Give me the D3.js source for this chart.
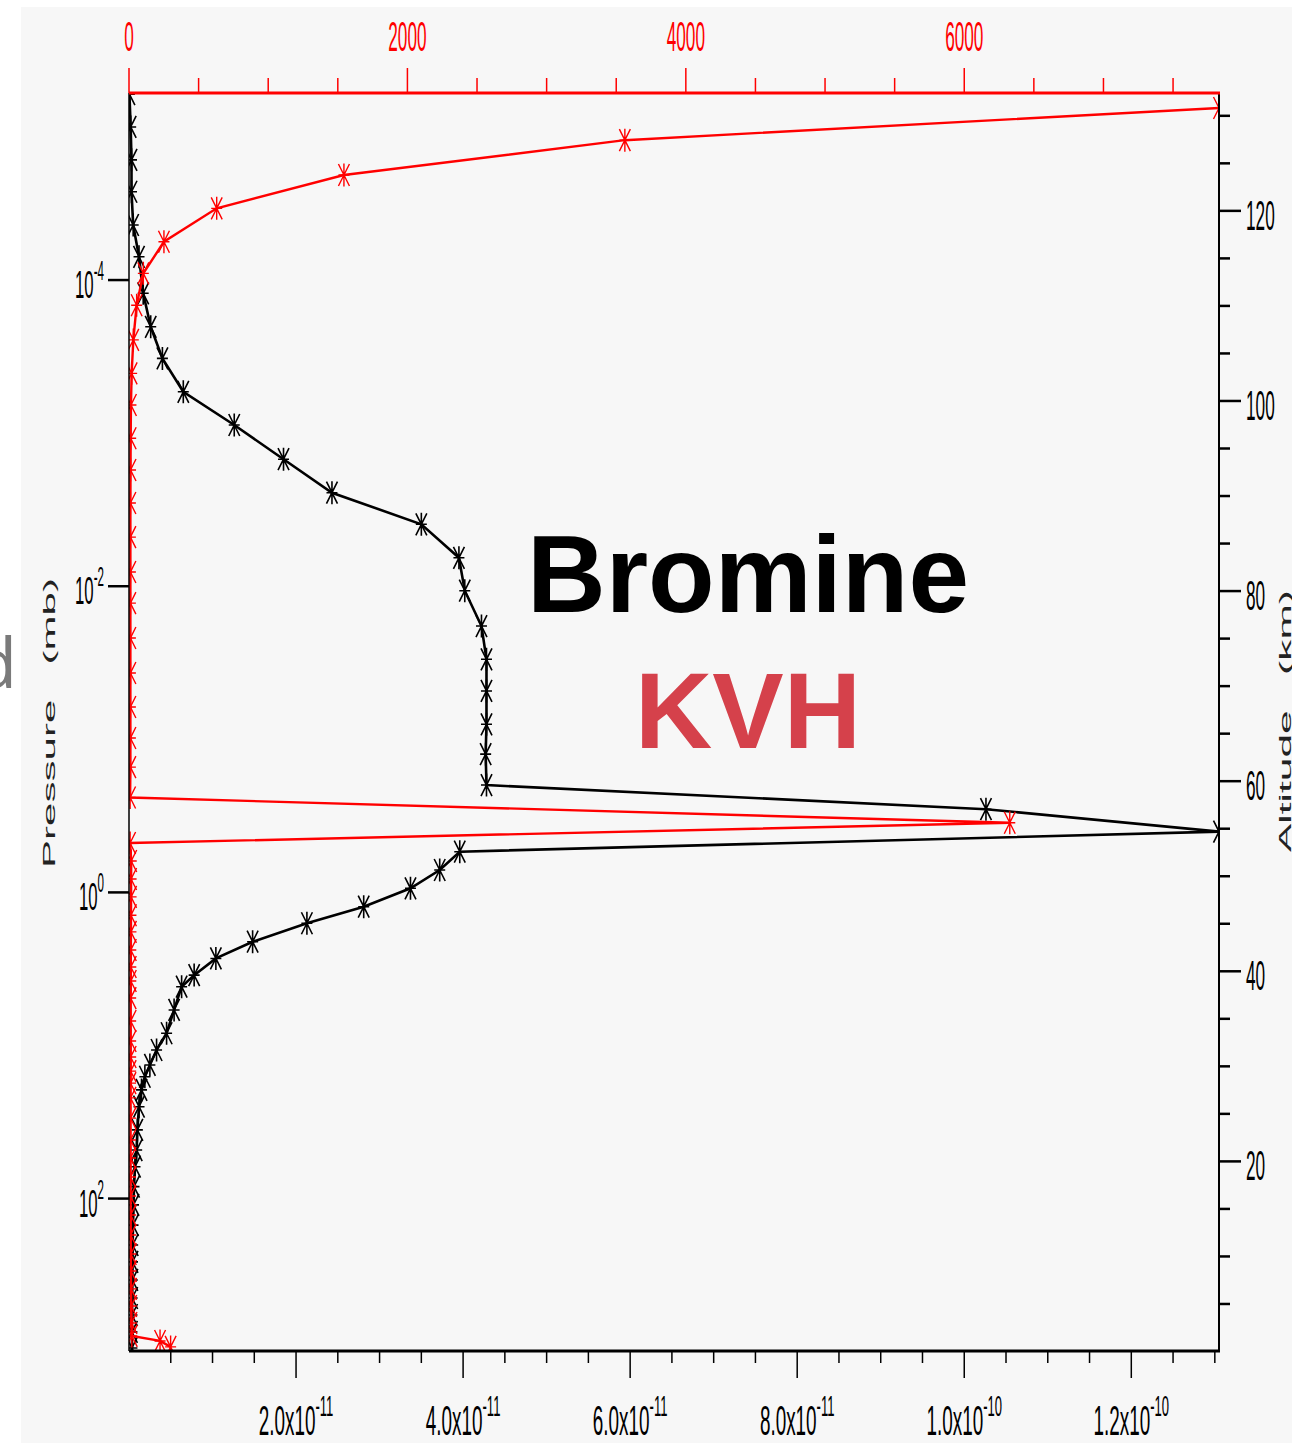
<!DOCTYPE html>
<html>
<head>
<meta charset="utf-8">
<script src="https://cdn.jsdelivr.net/npm/d3@7"></script>
<style>
  html, body { margin: 0; padding: 0; background: #ffffff; }
  svg { display: block; }
</style>
</head>
<body>
<svg id="chart" width="1292" height="1445"></svg>
<script>
// Bromine profile (black, bottom axis): pressure levels in mb and mixing ratio
const brPressure = [6.1e-6, 1.0e-5, 1.64e-5, 2.65e-5, 4.37e-5, 7.05e-5, 1.22e-4, 2.02e-4, 3.25e-4, 5.37e-4,
  8.85e-4, 1.48e-3, 2.45e-3, 3.94e-3, 6.52e-3, 1.07e-2, 1.82e-2, 3.00e-2, 4.83e-2, 7.98e-2,
  0.125, 0.199, 0.286, 0.401, 0.542, 0.714, 0.940, 1.24, 1.59, 2.10,
  2.70, 3.47, 4.13, 5.86, 8.32, 10.7, 13.4, 16.0, 19.5, 25.1,
  35.6, 48.2, 61.9, 83.6, 110, 149, 201, 259, 340, 446, 576, 743, 946];
const brMixing = [0.05e-12, 0.2e-12, 0.3e-12, 0.3e-12, 0.5e-12, 1.2e-12, 1.7e-12, 2.6e-12, 4.0e-12, 6.5e-12,
  12.6e-12, 18.5e-12, 24.3e-12, 35.0e-12, 39.5e-12, 40.2e-12, 42.2e-12, 42.8e-12, 42.8e-12, 42.8e-12,
  42.7e-12, 42.8e-12, 102.6e-12, 130.5e-12, 39.6e-12, 37.2e-12, 33.7e-12, 28.1e-12, 21.3e-12, 14.8e-12,
  10.4e-12, 7.8e-12, 6.3e-12, 5.4e-12, 4.5e-12, 3.3e-12, 2.5e-12, 1.9e-12, 1.5e-12, 1.2e-12,
  1.0e-12, 0.92e-12, 0.72e-12, 0.6e-12, 0.54e-12, 0.48e-12, 0.44e-12, 0.42e-12, 0.40e-12, 0.38e-12,
  0.36e-12, 0.35e-12, 0.35e-12];

// KVH profile (red, top axis): pressure levels in mb and values
const kvhPressure = [7.52e-6, 1.22e-5, 2.06e-5, 3.40e-5, 5.62e-5, 9.04e-5, 1.46e-4, 2.46e-4, 4.07e-4, 6.55e-4,
  1.08e-3, 1.74e-3, 2.86e-3, 4.78e-3, 8.08e-3, 1.29e-2, 2.18e-2, 3.69e-2, 6.15e-2, 9.81e-2,
  0.152, 0.240, 0.351, 0.476, 0.624, 0.817, 1.07, 1.41, 1.81, 2.38,
  3.07, 3.79, 4.90, 6.92, 9.35, 11.9, 14.7, 17.6, 22.0, 29.8,
  41.4, 54.3, 72.3, 96.2, 128, 173, 230, 297, 389, 503, 650, 789, 851, 931];
const kvhValue = [7830, 3562, 1544, 630, 251, 103, 55, 31, 19, 14,
  12, 11, 10, 10, 10, 10, 10, 10, 10, 10,
  10, 8, 6327, 8, 16, 15, 15, 14, 14, 13,
  13, 13, 12, 12, 12, 12, 12, 11, 11, 11,
  11, 11, 11, 11, 12, 12, 13, 14, 15, 16, 18, 20, 223, 299];

// Axis ticks and labels
const pressureTicks = [1e-4, 1e-2, 1e0, 1e2];
const pressureExp = ["-4", "-2", "0", "2"];
const bottomTicks = [2e-11, 4e-11, 6e-11, 8e-11, 1.0e-10, 1.2e-10];
const bottomMant = ["2.0x10", "4.0x10", "6.0x10", "8.0x10", "1.0x10", "1.2x10"];
const bottomExp = ["-11", "-11", "-11", "-11", "-10", "-10"];
const topTicks = [0, 2000, 4000, 6000];
const altitudeLabels = [20, 40, 60, 80, 100, 120];

const brData = brPressure.map((p, i) => ({ p, v: brMixing[i] }));
const kvhData = kvhPressure.map((p, i) => ({ p, v: kvhValue[i] }));

const svg = d3.select("#chart");
const L = 129, R = 1219, T = 93, B = 1351;
const FONT = "'Liberation Sans', Arial, Helvetica, sans-serif";

// panel background
svg.append("rect").attr("x", 21).attr("y", 7).attr("width", 1271).attr("height", 1436).attr("fill", "#f7f7f7");

// stray letter at the far left edge
svg.append("text").attr("x", 17).attr("y", 688).attr("text-anchor", "end")
  .attr("font-family", "'Open Sans', 'Liberation Sans', sans-serif").attr("font-size", 70)
  .attr("fill", "#7a7a7a").text("d");

// scales
const y = d3.scaleLog().domain([6.0e-6, 990]).range([T, B]);
const xBottom = d3.scaleLinear().domain([0, d3.max(brMixing)]).range([L, R]);
const xTop = d3.scaleLinear().domain([0, d3.max(kvhValue)]).range([L, R]);
const alt = d3.scaleLinear().domain([0, 132.4]).range([B + 0.5, T]);

svg.append("clipPath").attr("id", "plotClip")
  .append("rect").attr("x", L).attr("y", T).attr("width", R - L).attr("height", B - T);

// squeezed axis label with optional superscript
function tickLabel(g, x, yy, anchor, sx, color, main, sup, mainSize, supSize, supDy) {
  const t = g.append("text")
    .attr("transform", `translate(${x},${yy}) scale(${sx},1)`)
    .attr("text-anchor", anchor).attr("fill", color)
    .attr("font-family", FONT);
  t.append("tspan").attr("font-size", mainSize).text(main);
  if (sup !== null) t.append("tspan").attr("font-size", supSize).attr("dy", supDy).text(sup);
}

const axes = svg.append("g");

// top (red) axis
const topMinor = d3.range(0, 7830, 500);
axes.selectAll("line.topTick").data(topMinor).join("line")
  .attr("x1", d => xTop(d)).attr("x2", d => xTop(d))
  .attr("y1", T).attr("y2", d => T - (d % 2000 === 0 ? 25 : 15))
  .attr("stroke", "#ff0000").attr("stroke-width", 1.5);
topTicks.forEach(d => tickLabel(axes, xTop(d), 51, "middle", 0.40, "#ff0000", String(d), null, 43));

// bottom axis
const bottomMinor = d3.range(5, 131, 5);
axes.selectAll("line.botTick").data(bottomMinor).join("line")
  .attr("x1", d => xBottom(d * 1e-12)).attr("x2", d => xBottom(d * 1e-12))
  .attr("y1", B).attr("y2", d => B + (d % 20 === 0 ? 27 : 12))
  .attr("stroke", "#000").attr("stroke-width", 1.5);
bottomTicks.forEach((d, i) => tickLabel(axes, xBottom(d), 1435, "middle", 0.45, "#000",
  bottomMant[i], bottomExp[i], 42, 29, -19));

// left pressure axis
pressureTicks.forEach((d, i) => {
  axes.append("line").attr("x1", L - 21).attr("x2", L).attr("y1", y(d)).attr("y2", y(d))
    .attr("stroke", "#000").attr("stroke-width", 2.5);
  tickLabel(axes, 104, y(d) + 18, "end", 0.43, "#000", "10", pressureExp[i], 39, 27, -18);
});

// right altitude axis
const altTicks = d3.range(5, 131, 5);
axes.selectAll("line.altTick").data(altTicks).join("line")
  .attr("x1", R).attr("x2", d => R + (d % 20 === 0 ? 22 : 11))
  .attr("y1", d => alt(d)).attr("y2", d => alt(d))
  .attr("stroke", "#000").attr("stroke-width", 2.5);
altitudeLabels.forEach(d => tickLabel(axes, 1246, alt(d) + 19, "start", 0.41, "#000", String(d), null, 42));

// axis titles
svg.append("text")
  .attr("transform", "translate(55,723) rotate(-90)")
  .attr("text-anchor", "middle").attr("font-family", FONT).attr("font-size", 17)
  .attr("fill", "#222").style("white-space", "pre")
  .attr("textLength", 290).attr("lengthAdjust", "spacingAndGlyphs")
  .text("Pressure   (mb)");
svg.append("text")
  .attr("transform", "translate(1291,721) rotate(-90)")
  .attr("text-anchor", "middle").attr("font-family", FONT).attr("font-size", 17)
  .attr("fill", "#222").style("white-space", "pre")
  .attr("textLength", 262).attr("lengthAdjust", "spacingAndGlyphs")
  .text("Altitude   (km)");

// asterisk marker
const star = "M0,-11.5L0,11.5M-5.5,-11L5.5,11M-5.5,11L5.5,-11M-5.5,0L5.5,0";

const plot = svg.append("g").attr("clip-path", "url(#plotClip)");

// bromine profile
plot.append("path").datum(brData)
  .attr("d", d3.line().x(d => xBottom(d.v)).y(d => y(d.p)))
  .attr("fill", "none").attr("stroke", "#000").attr("stroke-width", 2.6);
plot.selectAll("path.brStar").data(brData).join("path")
  .attr("transform", d => `translate(${xBottom(d.v)},${y(d.p)})`)
  .attr("d", star).attr("fill", "none").attr("stroke", "#000").attr("stroke-width", 1.6);

// KVH profile
plot.append("path").datum(kvhData)
  .attr("d", d3.line().x(d => xTop(d.v)).y(d => y(d.p)))
  .attr("fill", "none").attr("stroke", "#ff0000").attr("stroke-width", 2.4);
plot.selectAll("path.kvhStar").data(kvhData).join("path")
  .attr("transform", d => `translate(${xTop(d.v)},${y(d.p)})`)
  .attr("d", star).attr("fill", "none").attr("stroke", "#ff0000").attr("stroke-width", 1.4);

// frame
svg.append("line").attr("x1", L).attr("x2", L).attr("y1", T).attr("y2", B).attr("stroke", "#000").attr("stroke-width", 1.5);
svg.append("line").attr("x1", R).attr("x2", R).attr("y1", T).attr("y2", B).attr("stroke", "#000").attr("stroke-width", 2);
svg.append("line").attr("x1", L).attr("x2", R + 1).attr("y1", B).attr("y2", B).attr("stroke", "#000").attr("stroke-width", 3);
svg.append("line").attr("x1", L).attr("x2", R + 1).attr("y1", T).attr("y2", T).attr("stroke", "#ff0000").attr("stroke-width", 3);

// annotations
svg.append("text").attr("x", 748).attr("y", 612).attr("text-anchor", "middle")
  .attr("font-family", FONT).attr("font-weight", "bold").attr("font-size", 109)
  .attr("fill", "#000").text("Bromine");
svg.append("text").attr("x", 748).attr("y", 748).attr("text-anchor", "middle")
  .attr("font-family", FONT).attr("font-weight", "bold").attr("font-size", 107)
  .attr("fill", "#d5414b").text("KVH");
</script>
</body>
</html>
